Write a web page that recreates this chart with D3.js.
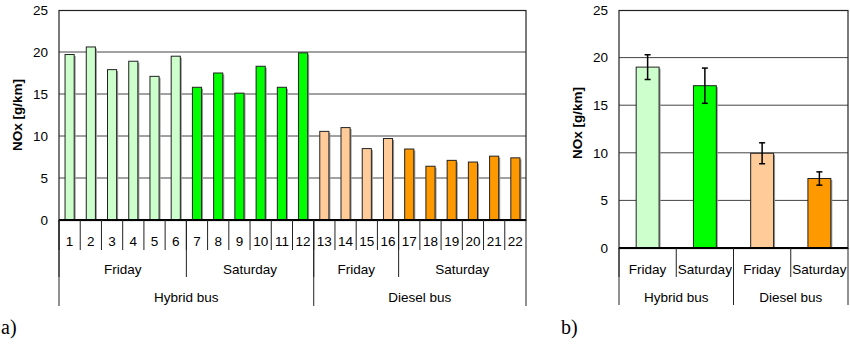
<!DOCTYPE html>
<html>
<head>
<meta charset="utf-8">
<script src="https://cdn.jsdelivr.net/npm/d3@7"></script>
<style>
  body { margin: 0; background: #fff; }
  text { font-family: "Liberation Sans", Arial, sans-serif; fill: #000; }
  .lbl { font-size: 13.5px; }
  .ytitle { font-size: 13.5px; font-weight: bold; }
  .panel { font-family: "Liberation Serif", "Times New Roman", serif; font-size: 20px; }
</style>
</head>
<body>
<script>
// chart a) single runs
var runs = ["1","2","3","4","5","6","7","8","9","10","11","12","13","14","15","16","17","18","19","20","21","22"];
var runNOx = [19.7, 20.6, 17.9, 18.9, 17.1, 19.5, 15.8, 17.5, 15.1, 18.3, 15.8, 19.9,
              10.55, 11.0, 8.5, 9.7, 8.45, 6.4, 7.1, 6.9, 7.6, 7.4];
var runGroup = ["hf","hf","hf","hf","hf","hf","hs","hs","hs","hs","hs","hs",
                "df","df","df","df","ds","ds","ds","ds","ds","ds"];
// day spans and bus spans (first run, last run)
var daySpans = [["Friday", 0, 5], ["Saturday", 6, 11], ["Friday", 12, 15], ["Saturday", 16, 21]];
var busSpans = [["Hybrid bus", 0, 11], ["Diesel bus", 12, 21]];

// chart b) averages with error
var avgCats = ["hf", "hs", "df", "ds"];
var avgDays = ["Friday", "Saturday", "Friday", "Saturday"];
var avgNOx = [19.0, 17.05, 9.95, 7.3];
var avgErr = [1.3, 1.85, 1.1, 0.7];
var avgBus = [["Hybrid bus", 0, 1], ["Diesel bus", 2, 3]];

var yTicks = [0, 5, 10, 15, 20, 25];
var colors = {hf: "#ccffcc", hs: "#00ff00", df: "#ffcc99", ds: "#ff9900"};

var svg = d3.select("body").append("svg").attr("width", 850).attr("height", 348);

function drawFrame(g, y, left, right, top, bottom, ytx, titleX, titleY){
	// gridlines
	g.selectAll(".grid").data(yTicks.filter(function(t){ return t > 0 && t < 25 }))
		.enter().append("line")
		.attr("x1", left).attr("x2", right)
		.attr("y1", function(d){ return y(d) }).attr("y2", function(d){ return y(d) })
		.attr("stroke", "#444").attr("stroke-width", 1);
	// border
	g.append("rect").attr("x", left).attr("y", top + 0.5)
		.attr("width", right - left).attr("height", bottom - top)
		.attr("fill", "none").attr("stroke", "#222").attr("stroke-width", 1.2);
	// y tick labels
	g.selectAll(".yt").data(yTicks).enter().append("text")
		.attr("class", "lbl")
		.attr("x", ytx).attr("y", function(d){ return y(d) })
		.attr("dy", "0.35em").attr("text-anchor", "end")
		.text(function(d){ return d });
	g.append("text").attr("class", "ytitle")
		.attr("transform", "translate(" + titleX + "," + titleY + ") rotate(-90)")
		.attr("dy", "0.35em").attr("text-anchor", "middle")
		.text("NOx [g/km]");
}

function vline(g, xpos, y1, y2){
	g.append("line").attr("x1", xpos).attr("x2", xpos).attr("y1", y1).attr("y2", y2)
		.attr("stroke", "#222").attr("stroke-width", 1);
}

function drawBars(g, keys, vals, x, y, bottom, frac, fillOf){
	var bw = x.bandwidth();
	var barW = bw * frac;
	var bars = g.selectAll(".bar").data(keys).enter();
	// little drop shadow like the original
	bars.append("rect")
		.attr("x", function(d){ return x(d) + (bw - barW) / 2 + 1.5 })
		.attr("y", function(d, i){ return y(vals[i]) + 1.5 })
		.attr("width", barW).attr("height", function(d, i){ return bottom - y(vals[i]) - 1.5 })
		.attr("fill", "#999");
	bars.append("rect")
		.attr("x", function(d){ return x(d) + (bw - barW) / 2 })
		.attr("y", function(d, i){ return y(vals[i]) })
		.attr("width", barW).attr("height", function(d, i){ return bottom - y(vals[i]) })
		.attr("fill", fillOf)
		.attr("stroke", "#222").attr("stroke-width", 1);
}

// ---------- chart a ----------
function drawRuns(){
	var left = 59, right = 526, top = 10, bottom = 220;
	var g = svg.append("g");
	var x = d3.scaleBand().domain(runs).range([left, right]).padding(0);
	var y = d3.scaleLinear().domain([0, 25]).range([bottom, top]);
	drawFrame(g, y, left, right, top, bottom, 48, 17, 115);
	var bw = x.bandwidth();
	drawBars(g, runs, runNOx, x, y, bottom, 0.43, function(d, i){ return colors[runGroup[i]] });

	// zero axis
	g.append("line").attr("x1", left).attr("x2", right).attr("y1", bottom).attr("y2", bottom)
		.attr("stroke", "#000").attr("stroke-width", 2);

	// run labels and separators
	g.selectAll(".rl").data(runs).enter().append("text")
		.attr("class", "lbl")
		.attr("x", function(d){ return x(d) + bw / 2 }).attr("y", 241)
		.attr("dy", "0.35em").attr("text-anchor", "middle")
		.text(function(d){ return d });
	runs.forEach(function(d){ vline(g, x(d), bottom, 250) });
	vline(g, right, bottom, 306);
	daySpans.forEach(function(s){
		var x0 = x(runs[s[1]]), x1 = x(runs[s[2]]) + bw;
		g.append("text").attr("class", "lbl").attr("x", (x0 + x1) / 2).attr("y", 269)
			.attr("dy", "0.35em").attr("text-anchor", "middle").text(s[0]);
		vline(g, x0, bottom, 277);
	});
	busSpans.forEach(function(s){
		var x0 = x(runs[s[1]]), x1 = x(runs[s[2]]) + bw;
		g.append("text").attr("class", "lbl").attr("x", (x0 + x1) / 2).attr("y", 297)
			.attr("dy", "0.35em").attr("text-anchor", "middle").text(s[0]);
		vline(g, x0, bottom, 306);
	});
	g.append("text").attr("class", "panel").attr("x", 1).attr("y", 334).text("a)");
}

// ---------- chart b ----------
function drawAverages(){
	var left = 619, right = 848, top = 10, bottom = 248;
	var g = svg.append("g");
	var x = d3.scaleBand().domain(avgCats).range([left, right]).padding(0);
	var y = d3.scaleLinear().domain([0, 25]).range([bottom, top]);
	drawFrame(g, y, left, right, top, bottom, 608, 577, 123);
	var bw = x.bandwidth();
	drawBars(g, avgCats, avgNOx, x, y, bottom, 0.4, function(d){ return colors[d] });

	// error bars
	avgCats.forEach(function(d, i){
		var cx = x(d) + bw / 2;
		var yt = y(avgNOx[i] + avgErr[i]), yb = y(avgNOx[i] - avgErr[i]);
		g.append("line").attr("x1", cx).attr("x2", cx).attr("y1", yt).attr("y2", yb)
			.attr("stroke", "#000").attr("stroke-width", 1.5);
		[yt, yb].forEach(function(yy){
			g.append("line").attr("x1", cx - 3).attr("x2", cx + 3).attr("y1", yy).attr("y2", yy)
				.attr("stroke", "#000").attr("stroke-width", 1.5);
		});
	});

	g.append("line").attr("x1", left).attr("x2", right).attr("y1", bottom).attr("y2", bottom)
		.attr("stroke", "#000").attr("stroke-width", 2);

	avgCats.forEach(function(d, i){
		g.append("text").attr("class", "lbl").attr("x", x(d) + bw / 2).attr("y", 269)
			.attr("dy", "0.35em").attr("text-anchor", "middle").text(avgDays[i]);
		vline(g, x(d), bottom, 277);
	});
	vline(g, right, bottom, 305);
	avgBus.forEach(function(s){
		var x0 = x(avgCats[s[1]]), x1 = x(avgCats[s[2]]) + bw;
		g.append("text").attr("class", "lbl").attr("x", (x0 + x1) / 2).attr("y", 297)
			.attr("dy", "0.35em").attr("text-anchor", "middle").text(s[0]);
		vline(g, x0, bottom, 305);
	});
	g.append("text").attr("class", "panel").attr("x", 561).attr("y", 334).text("b)");
}

drawRuns();
drawAverages();
</script>
</body>
</html>
